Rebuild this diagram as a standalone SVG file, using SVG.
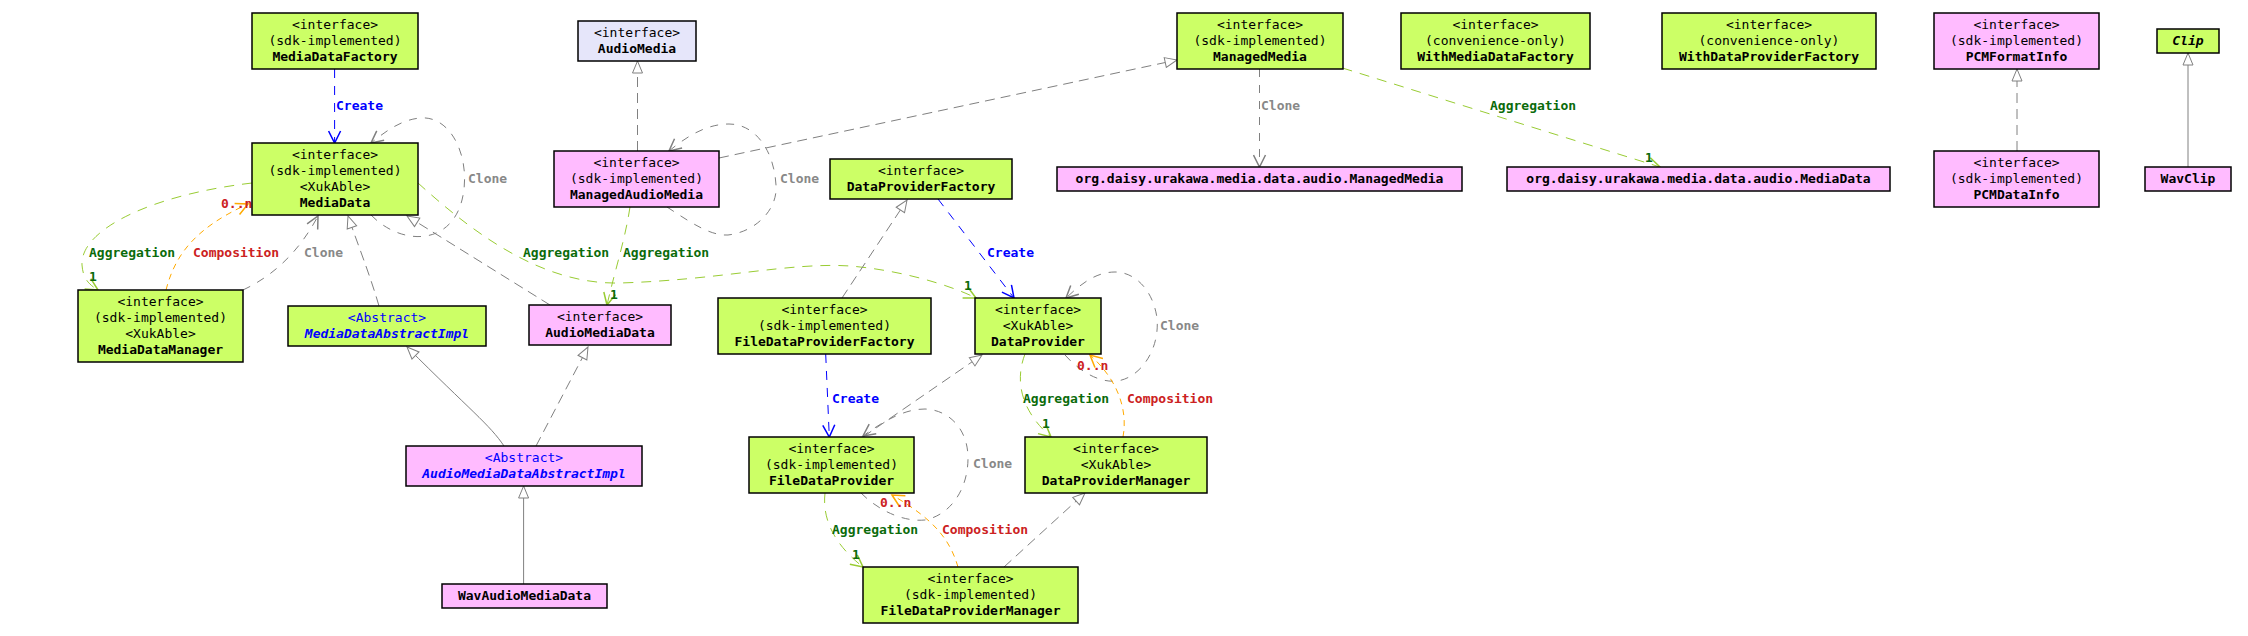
<svg xmlns="http://www.w3.org/2000/svg" width="2248" height="636" viewBox="0 0 2248 636">
<style>
text{font-family:"DejaVu Sans Mono","Liberation Mono",monospace;font-size:13px;fill:#000}
.n rect{stroke:#000;stroke-width:1.5}
.g{fill:#ccff66}
.p{fill:#ffbbff}
.l{fill:#e6e6fa}
.t{text-anchor:middle}
.b{font-weight:bold}
.ab{fill:#0000ff}
.abi{fill:#0000ff;font-weight:bold;font-style:italic}
.bi{font-weight:bold;font-style:italic}
.c path{fill:none;stroke-width:1}
.real{stroke:#808080;stroke-dasharray:10,6;marker-end:url(#tri)}
.inh{stroke:#808080;marker-end:url(#tri)}
.clone{stroke:#808080;stroke-dasharray:8,8;marker-end:url(#vgray)}
.agg{stroke:#99cc33;stroke-dasharray:10,8;marker-end:url(#vgreen)}
.comp{stroke:#ffaa00;stroke-dasharray:6,5;marker-end:url(#vorange)}
.create{stroke:#0000ff;stroke-dasharray:9,8;marker-end:url(#vblue)}
.lc{fill:#888888;font-weight:bold}
.la{fill:#0b6b0b;font-weight:bold}
.lr{fill:#cc2222;font-weight:bold}
.lb{fill:#0000ff;font-weight:bold}
</style>
<defs>
<marker id="tri" markerUnits="userSpaceOnUse" markerWidth="16" markerHeight="12" viewBox="0 -6 14 12" refX="13" refY="0" orient="auto"><path d="M1,-5 L13,0 L1,5 Z" fill="#fff" stroke="#808080" stroke-width="1"/></marker>
<marker id="vgray" markerUnits="userSpaceOnUse" markerWidth="16" markerHeight="14" viewBox="0 -7 14 14" refX="13" refY="0" orient="auto"><path d="M1,-6 L13,0 L1,6" fill="none" stroke="#808080" stroke-width="1.5"/></marker>
<marker id="vgreen" markerUnits="userSpaceOnUse" markerWidth="16" markerHeight="14" viewBox="0 -7 14 14" refX="13" refY="0" orient="auto"><path d="M1,-6 L13,0 L1,6" fill="none" stroke="#99cc33" stroke-width="1.5"/></marker>
<marker id="vorange" markerUnits="userSpaceOnUse" markerWidth="16" markerHeight="14" viewBox="0 -7 14 14" refX="13" refY="0" orient="auto"><path d="M1,-6 L13,0 L1,6" fill="none" stroke="#ffaa00" stroke-width="1.5"/></marker>
<marker id="vblue" markerUnits="userSpaceOnUse" markerWidth="16" markerHeight="14" viewBox="0 -7 14 14" refX="13" refY="0" orient="auto"><path d="M1,-6 L13,0 L1,6" fill="none" stroke="#0000ff" stroke-width="1.5"/></marker>
</defs>
<rect width="2248" height="636" fill="#fff"/>

<g id="connectors" class="c">
<path class="create" d="M334.6,69 L334.6,143"/>
<text class="lb" x="336" y="110">Create</text>
<path class="clone" d="M371,215 C400,245 450,247 462,200 C472,160 452,115 420,118 C400,120 385,132 371,143"/>
<text class="lc" x="468" y="183">Clone</text>
<path class="agg" d="M252,183 C150,195 80,230 82,265 C83,278 88,284 98,290"/>
<text class="la" x="89" y="257">Aggregation</text>
<text class="la" x="89" y="281">1</text>
<path class="comp" d="M166,290 C175,255 195,228 248,204"/>
<text class="lr" x="221" y="208">0..n</text>
<text class="lr" x="193" y="257">Composition</text>
<path class="clone" d="M243,290 C275,275 300,250 318,216"/>
<text class="lc" x="304" y="257">Clone</text>
<path class="real" d="M379,306 C370,275 358,245 348,216"/>
<path class="real" d="M550,305 L407,216"/>
<path class="agg" d="M418,183 C470,230 540,285 620,283 C720,280 790,262 850,266 C900,270 950,285 976,298"/>
<text class="la" x="523" y="257">Aggregation</text>
<text class="la" x="964" y="290">1</text>
<path class="inh" d="M504,446 C490,425 470,410 407,347"/>
<path class="inh" d="M523.6,584 L523.6,486"/>
<path class="real" d="M536,446 L588,347"/>
<path class="real" d="M637.5,151 L637.5,61"/>
<path class="clone" d="M667,207 C690,222 710,236 728,235 C755,232 778,210 776,185 C774,150 755,124 729,124 C705,124 685,138 669,151"/>
<text class="lc" x="780" y="183">Clone</text>
<path class="real" d="M719,158 L1177,60"/>
<path class="agg" d="M630,207 C625,240 615,270 607,305"/>
<text class="la" x="623" y="257">Aggregation</text>
<text class="la" x="610" y="299">1</text>
<path class="real" d="M842,298 L907,200"/>
<path class="create" d="M938,199 L1014,298"/>
<text class="lb" x="987" y="257">Create</text>
<path class="clone" d="M1065,355 C1080,372 1100,383 1117,381 C1140,378 1160,350 1157,318 C1153,290 1135,272 1115,272 C1095,272 1080,285 1066,298"/>
<text class="lc" x="1160" y="330">Clone</text>
<path class="agg" d="M1025,354 C1015,380 1020,410 1051,437"/>
<text class="la" x="1023" y="403">Aggregation</text>
<text class="la" x="1042" y="428">1</text>
<path class="comp" d="M1123,437 C1128,410 1118,380 1090,355"/>
<text class="lr" x="1077" y="370">0..n</text>
<text class="lr" x="1127" y="403">Composition</text>
<path class="create" d="M825.7,354 L829.3,437"/>
<text class="lb" x="832" y="403">Create</text>
<path class="real" d="M863,437 L982,355"/>
<path class="clone" d="M861,493 C880,512 905,522 925,520 C950,515 968,490 968,458 C968,430 950,410 925,409 C905,409 885,420 863,436"/>
<text class="lc" x="973" y="468">Clone</text>
<path class="agg" d="M825,493 C822,520 835,545 863,567"/>
<text class="la" x="832" y="534">Aggregation</text>
<text class="la" x="852" y="559">1</text>
<path class="comp" d="M958,567 C950,540 935,520 892,495"/>
<text class="lr" x="880" y="507">0..n</text>
<text class="lr" x="942" y="534">Composition</text>
<path class="real" d="M1004,567 L1085,493"/>
<path class="clone" d="M1259.5,69 L1259.5,167"/>
<text class="lc" x="1261" y="110">Clone</text>
<path class="agg" d="M1342.5,68 L1660,167"/>
<text class="la" x="1490" y="110">Aggregation</text>
<text class="la" x="1645" y="162">1</text>
<path class="real" d="M2017,151 L2017,69"/>
<path class="inh" d="M2188,167 L2188,53"/>
</g>

<g id="MediaDataFactory" class="n"><rect class="g" x="252" y="13" width="166" height="56"/><text class="t" x="335" y="29">&lt;interface&gt;</text><text class="t" x="335" y="45">(sdk-implemented)</text><text class="t b" x="335" y="61">MediaDataFactory</text></g>
<g id="MediaData" class="n"><rect class="g" x="252" y="143" width="166" height="72"/><text class="t" x="335" y="159">&lt;interface&gt;</text><text class="t" x="335" y="175">(sdk-implemented)</text><text class="t" x="335" y="191">&lt;XukAble&gt;</text><text class="t b" x="335" y="207">MediaData</text></g>
<g id="MediaDataManager" class="n"><rect class="g" x="78" y="290" width="165" height="72"/><text class="t" x="160.5" y="306">&lt;interface&gt;</text><text class="t" x="160.5" y="322">(sdk-implemented)</text><text class="t" x="160.5" y="338">&lt;XukAble&gt;</text><text class="t b" x="160.5" y="354">MediaDataManager</text></g>
<g id="MediaDataAbstractImpl" class="n"><rect class="g" x="288" y="306" width="198" height="40"/><text class="t ab" x="387" y="322">&lt;Abstract&gt;</text><text class="t abi" x="387" y="338">MediaDataAbstractImpl</text></g>
<g id="AudioMedia" class="n"><rect class="l" x="578" y="21" width="118" height="40"/><text class="t" x="637" y="37">&lt;interface&gt;</text><text class="t b" x="637" y="53">AudioMedia</text></g>
<g id="ManagedAudioMedia" class="n"><rect class="p" x="554" y="151" width="165" height="56"/><text class="t" x="636.5" y="167">&lt;interface&gt;</text><text class="t" x="636.5" y="183">(sdk-implemented)</text><text class="t b" x="636.5" y="199">ManagedAudioMedia</text></g>
<g id="AudioMediaData" class="n"><rect class="p" x="529" y="305" width="142" height="40"/><text class="t" x="600" y="321">&lt;interface&gt;</text><text class="t b" x="600" y="337">AudioMediaData</text></g>
<g id="AudioMediaDataAbstractImpl" class="n"><rect class="p" x="406" y="446" width="236" height="40"/><text class="t ab" x="524" y="462">&lt;Abstract&gt;</text><text class="t abi" x="524" y="478">AudioMediaDataAbstractImpl</text></g>
<g id="WavAudioMediaData" class="n"><rect class="p" x="442" y="584" width="165" height="24"/><text class="t b" x="524.5" y="600">WavAudioMediaData</text></g>
<g id="DataProviderFactory" class="n"><rect class="g" x="830" y="159" width="182" height="40"/><text class="t" x="921" y="175">&lt;interface&gt;</text><text class="t b" x="921" y="191">DataProviderFactory</text></g>
<g id="FileDataProviderFactory" class="n"><rect class="g" x="718" y="298" width="213" height="56"/><text class="t" x="824.5" y="314">&lt;interface&gt;</text><text class="t" x="824.5" y="330">(sdk-implemented)</text><text class="t b" x="824.5" y="346">FileDataProviderFactory</text></g>
<g id="DataProvider" class="n"><rect class="g" x="975" y="298" width="126" height="56"/><text class="t" x="1038" y="314">&lt;interface&gt;</text><text class="t" x="1038" y="330">&lt;XukAble&gt;</text><text class="t b" x="1038" y="346">DataProvider</text></g>
<g id="FileDataProvider" class="n"><rect class="g" x="749" y="437" width="165" height="56"/><text class="t" x="831.5" y="453">&lt;interface&gt;</text><text class="t" x="831.5" y="469">(sdk-implemented)</text><text class="t b" x="831.5" y="485">FileDataProvider</text></g>
<g id="DataProviderManager" class="n"><rect class="g" x="1025" y="437" width="182" height="56"/><text class="t" x="1116" y="453">&lt;interface&gt;</text><text class="t" x="1116" y="469">&lt;XukAble&gt;</text><text class="t b" x="1116" y="485">DataProviderManager</text></g>
<g id="FileDataProviderManager" class="n"><rect class="g" x="863" y="567" width="215" height="56"/><text class="t" x="970.5" y="583">&lt;interface&gt;</text><text class="t" x="970.5" y="599">(sdk-implemented)</text><text class="t b" x="970.5" y="615">FileDataProviderManager</text></g>
<g id="ManagedMedia" class="n"><rect class="g" x="1177" y="13" width="166" height="56"/><text class="t" x="1260" y="29">&lt;interface&gt;</text><text class="t" x="1260" y="45">(sdk-implemented)</text><text class="t b" x="1260" y="61">ManagedMedia</text></g>
<g id="OrgManagedMedia" class="n"><rect class="p" x="1057" y="167" width="405" height="24"/><text class="t b" x="1259.5" y="183">org.daisy.urakawa.media.data.audio.ManagedMedia</text></g>
<g id="WithMediaDataFactory" class="n"><rect class="g" x="1401" y="13" width="189" height="56"/><text class="t" x="1495.5" y="29">&lt;interface&gt;</text><text class="t" x="1495.5" y="45">(convenience-only)</text><text class="t b" x="1495.5" y="61">WithMediaDataFactory</text></g>
<g id="WithDataProviderFactory" class="n"><rect class="g" x="1662" y="13" width="214" height="56"/><text class="t" x="1769" y="29">&lt;interface&gt;</text><text class="t" x="1769" y="45">(convenience-only)</text><text class="t b" x="1769" y="61">WithDataProviderFactory</text></g>
<g id="OrgMediaData" class="n"><rect class="p" x="1507" y="167" width="383" height="24"/><text class="t b" x="1698.5" y="183">org.daisy.urakawa.media.data.audio.MediaData</text></g>
<g id="PCMFormatInfo" class="n"><rect class="p" x="1934" y="13" width="165" height="56"/><text class="t" x="2016.5" y="29">&lt;interface&gt;</text><text class="t" x="2016.5" y="45">(sdk-implemented)</text><text class="t b" x="2016.5" y="61">PCMFormatInfo</text></g>
<g id="PCMDataInfo" class="n"><rect class="p" x="1934" y="151" width="165" height="56"/><text class="t" x="2016.5" y="167">&lt;interface&gt;</text><text class="t" x="2016.5" y="183">(sdk-implemented)</text><text class="t b" x="2016.5" y="199">PCMDataInfo</text></g>
<g id="Clip" class="n"><rect class="g" x="2157" y="29" width="62" height="24"/><text class="t bi" x="2188" y="45">Clip</text></g>
<g id="WavClip" class="n"><rect class="p" x="2145" y="167" width="86" height="24"/><text class="t b" x="2188" y="183">WavClip</text></g>
</svg>
